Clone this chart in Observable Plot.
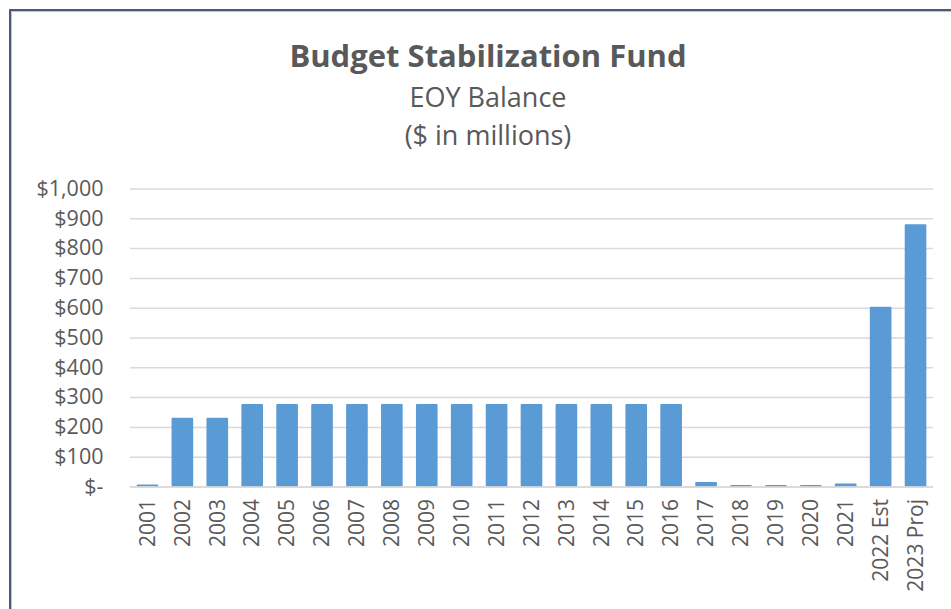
<!DOCTYPE html>
<html>
<head>
<meta charset="utf-8">
<script src="https://cdn.jsdelivr.net/npm/d3@7"></script>
<script src="https://cdn.jsdelivr.net/npm/@observablehq/plot@0.6"></script>
<style>
  html, body { margin: 0; padding: 0; background: #fff; }
  #wrap { position: relative; width: 951px; height: 609px; overflow: hidden; font-family: "Open Sans", sans-serif; color: #595959; }
  #frame { position: absolute; left: 9px; top: 9px; width: 1000px; height: 700px; border-left: 2px solid #4b5b76; border-top: 2px solid #4b5b76; box-shadow: inset 1px 1px 0 #b8c4d6; }
  .t { position: absolute; left: 238px; width: 500px; text-align: center; white-space: nowrap; }
  #title { top: 34px; font-size: 31px; font-weight: bold; }
  #sub1 { top: 78px; font-size: 27px; }
  #sub2 { top: 116px; font-size: 27px; }
  #chart { position: absolute; left: 0; top: 0; }
</style>
</head>
<body>
<div id="wrap">
  <div id="frame"></div>
  <div id="chart"></div>
  <div class="t" id="title">Budget Stabilization Fund</div>
  <div class="t" id="sub1">EOY Balance</div>
  <div class="t" id="sub2">($ in millions)</div>
</div>
<script>
const years = ["2001","2002","2003","2004","2005","2006","2007","2008","2009","2010","2011","2012","2013","2014","2015","2016","2017","2018","2019","2020","2021","2022 Est","2023 Proj"];
const balances = [7,231,231,277,277,277,277,277,277,277,277,277,277,277,277,277,15,5,5,5,10,603,880];
const yTicks = [0,100,200,300,400,500,600,700,800,900,1000];

const data = years.map((year, i) => ({year, value: balances[i]}));

const fmt = d => d === 0 ? "$-" : "$" + d3.format(",")(d);

const chart = Plot.plot({
  width: 951,
  height: 609,
  marginTop: 188.5,
  marginBottom: 122.5,
  marginLeft: 130,
  marginRight: 18,
  style: { fontFamily: "Open Sans, sans-serif", fontSize: "21px", color: "#595959", background: "transparent" },
  x: { domain: years, paddingInner: 0.38, paddingOuter: 0.19, round: false, label: null },
  y: { domain: [0, 1000], ticks: yTicks, label: null },
  marks: [
    Plot.gridY(yTicks, { stroke: "#d9d9d9", strokeOpacity: 1, strokeWidth: 1.5 }),
    Plot.barY(data, { x: "year", y: "value", fill: "#5b9bd5", rx: 1 }),
    Plot.ruleY([0], { stroke: "#d9d9d9", strokeWidth: 1.5 }),
    Plot.axisY(yTicks, { tickSize: 0, tickPadding: 27, tickFormat: fmt, fill: "#595959", fontSize: 21.5, label: null }),
    Plot.axisX({ tickSize: 0, tickPadding: 12, tickRotate: -90, fill: "#595959", fontSize: 21, label: null })
  ]
});
document.getElementById("chart").appendChild(chart);
</script>
</body>
</html>
